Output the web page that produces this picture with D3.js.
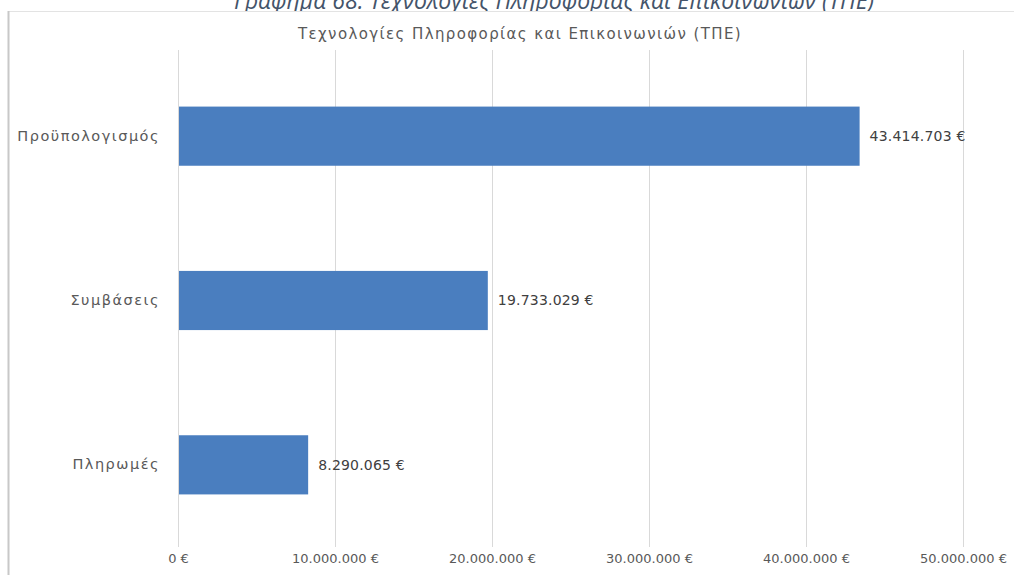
<!DOCTYPE html>
<html>
<head>
<meta charset="utf-8">
<script src="https://cdn.jsdelivr.net/npm/d3@7"></script>
<style>
  html, body { margin: 0; padding: 0; background: #fff; }
  svg { display: block; }
</style>
</head>
<body>
<svg id="chart" width="1014" height="575"></svg>
<script>
// Data
const categories = ["Προϋπολογισμός", "Συμβάσεις", "Πληρωμές"];
const values = [43414703, 19733029, 8290065];
const tickValues = [0, 10000000, 20000000, 30000000, 40000000, 50000000];
const figureTitle = "Γράφημα 68: Τεχνολογίες Πληροφορίας και Επικοινωνιών (ΤΠΕ)";
const chartTitle = "Τεχνολογίες Πληροφορίας και Επικοινωνιών (ΤΠΕ)";

const svg = d3.select("#chart");
const W = 1014, H = 575;
const font = "'DejaVu Sans', 'Noto Sans', sans-serif";

// Euro formatting with dot thousands separator
const locale = d3.formatLocale({ decimal: ",", thousands: ".", grouping: [3], currency: ["", " €"] });
const fmt = v => locale.format(",.0f")(v) + " €";

// Figure caption (runs off the top edge of the page)
svg.append("text")
  .attr("x", 554).attr("y", 9)
  .attr("text-anchor", "middle")
  .attr("font-family", "'Open Sans', 'Noto Sans', sans-serif")
  .attr("font-style", "italic")
  .attr("font-size", 23)
  .attr("fill", "#44546a")
  .text(figureTitle);

// Chart frame
svg.append("rect")
  .attr("x", 8.5).attr("y", 11.5)
  .attr("width", W + 10).attr("height", H)
  .attr("fill", "#fff")
  .attr("stroke", "#e3e3e3").attr("stroke-width", 1);
svg.append("line")
  .attr("x1", 8.5).attr("x2", 8.5).attr("y1", 11).attr("y2", H)
  .attr("stroke", "#c8c8c8").attr("stroke-width", 2);

// Chart title
svg.append("text")
  .attr("x", 520).attr("y", 39)
  .attr("text-anchor", "middle")
  .attr("font-family", font)
  .attr("font-size", 15)
  .attr("letter-spacing", 1.4)
  .attr("fill", "#595959")
  .text(chartTitle);

const x = d3.scaleLinear().domain([0, 50000000]).range([178, 963]);
const y = d3.scaleBand().domain(categories).range([54, 547]).paddingInner(0.64).paddingOuter(0.32);

// Vertical gridlines
svg.append("g")
  .selectAll("line")
  .data(tickValues)
  .join("line")
  .attr("x1", d => Math.round(x(d)) + 0.5)
  .attr("x2", d => Math.round(x(d)) + 0.5)
  .attr("y1", 50).attr("y2", 547)
  .attr("stroke", "#d9d9d9").attr("stroke-width", 1);

// X axis labels
const xAxis = d3.axisBottom(x).tickValues(tickValues).tickFormat(fmt).tickSize(0).tickPadding(0);
const gx = svg.append("g").attr("transform", "translate(0,554)").call(xAxis);
gx.select(".domain").remove();
gx.selectAll("text")
  .attr("font-family", font).attr("font-size", 13).attr("fill", "#595959")
  .attr("dy", "0.71em");

// Y axis labels
const yAxis = d3.axisLeft(y).tickSize(0).tickPadding(18);
const gy = svg.append("g").attr("transform", "translate(178,0)").call(yAxis);
gy.select(".domain").remove();
gy.selectAll("text")
  .attr("font-family", font).attr("font-size", 14.5).attr("letter-spacing", 1.5).attr("fill", "#595959");

// Bars
svg.append("g")
  .selectAll("rect")
  .data(categories)
  .join("rect")
  .attr("x", x(0) + 1)
  .attr("y", d => y(d))
  .attr("width", (d, i) => x(values[i]) - x(0) - 1)
  .attr("height", y.bandwidth())
  .attr("fill", "#4a7ebf");

// Value labels
svg.append("g")
  .selectAll("text")
  .data(categories)
  .join("text")
  .attr("x", (d, i) => x(values[i]) + 10)
  .attr("y", d => y(d) + y.bandwidth() / 2)
  .attr("dy", "0.35em")
  .attr("font-family", font).attr("font-size", 14).attr("letter-spacing", 0.2).attr("fill", "#404040")
  .text((d, i) => fmt(values[i]));
</script>
</body>
</html>
